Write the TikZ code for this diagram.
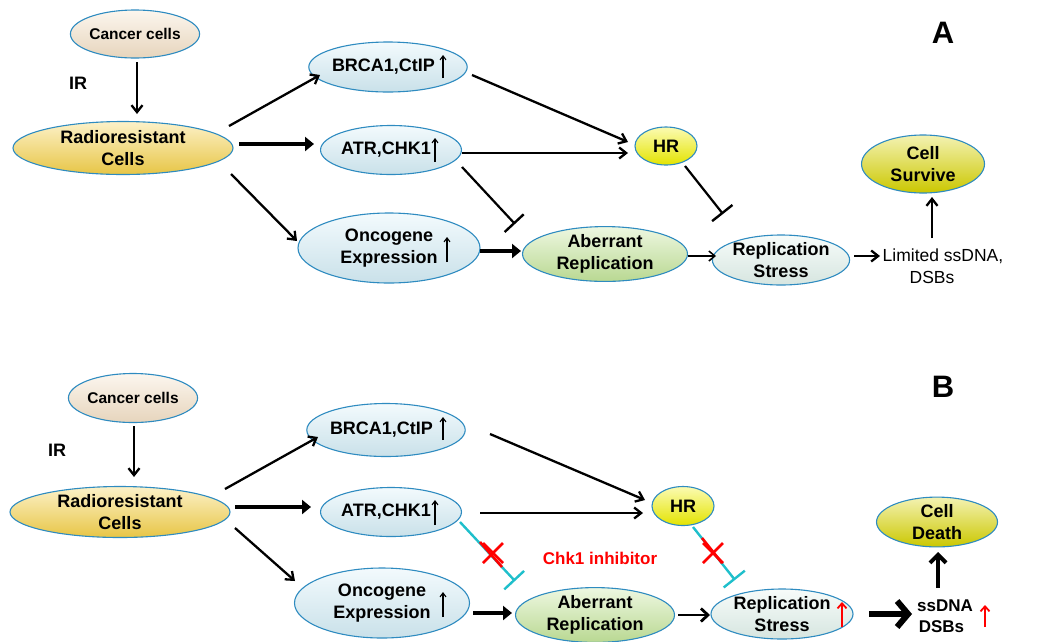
\documentclass[tikz,border=0pt]{standalone}
\usepackage{fontspec}
\setmainfont{Liberation Sans}
\usetikzlibrary{shapes.geometric,arrows.meta}
\definecolor{edgeblue}{HTML}{2E8BC0}
\definecolor{peach}{HTML}{F5E2C8}
\definecolor{gold}{HTML}{F6D24A}
\definecolor{lblue}{HTML}{D6EFF8}
\definecolor{hryel}{HTML}{F2F200}
\definecolor{olive}{HTML}{D8D400}
\definecolor{lgreen}{HTML}{C5E69B}
\definecolor{rsfill}{HTML}{E4F4EE}
\definecolor{teal}{HTML}{1FBFCB}
\definecolor{myred}{HTML}{FF0000}
\tikzset{
  ell/.style={ellipse, draw=edgeblue, line width=1.1pt, inner sep=0pt, align=center,
     font=\bfseries\fontsize{18}{22}\selectfont},
  fillc/.style={top color=#1!30!white, middle color=#1, bottom color=#1!94!black},
  sz/.style 2 args={minimum width=#1pt, minimum height=#2pt},
  arr/.style={line width=2.3pt, -{Straight Barb[length=7pt,width=11pt,line width=2.3pt]}},
  thinarr/.style={line width=1.3pt, -{Straight Barb[length=6pt,width=10pt,line width=1.5pt]}},
  thickarr/.style={line width=3.8pt, -{Triangle[length=9pt,width=14pt]}},
  bigarr/.style={line width=6pt, -{Straight Barb[length=11pt,width=26pt,line width=6pt]}},
  medarr/.style={line width=2.8pt, -{Straight Barb[length=7pt,width=13pt,line width=2.8pt]}},
  inh/.style={line width=2.2pt, -{Bar[width=26pt,line width=2.4pt]}},
  inhb/.style={draw=teal, line width=2.4pt, -{Bar[width=27pt,line width=2.4pt]}},
  redseg/.style={draw=myred, line width=2.6pt},
  upa/.style={line width=1.1pt, -{Straight Barb[length=4pt,width=6pt,line width=1.1pt]}},
  upr/.style={draw=myred, line width=1.8pt, -{Straight Barb[length=5pt,width=9pt,line width=1.8pt]}},
  lab/.style={font=\bfseries\fontsize{18}{22}\selectfont},
}
\begin{document}
\begin{tikzpicture}[x=1pt,y=-1pt]
\useasboundingbox (0,0) rectangle (1048,641);
% ================= Panel A =================
\node[ell, fillc=peach, sz={110}{48}, font=\bfseries\fontsize{15.5}{18}\selectfont] (can1) at (135,34) {Cancer cells};
\node[ell, fillc=gold, sz={220}{53}] (rad1) at (123,148) {Radioresistant\\Cells};
\node[ell, fillc=lblue, sz={132}{50}] (brca1) at (388,67) {BRCA1,CtIP\hspace*{9pt}};
\node[ell, fillc=lblue, sz={124}{49}] (atr1) at (391,150) {ATR,CHK1\hspace*{10pt}};
\node[ell, fillc=lblue, sz={182}{70}] (onc1) at (389,248) {Oncogene\\Expression};
\node[ell, fillc=hryel, sz={62}{38}] (hr1) at (666,146) {HR};
\node[ell, fillc=olive, sz={123}{58}] (cs1) at (923,164) {Cell\\Survive};
\node[ell, fillc=lgreen, sz={165}{50}] (ab1) at (605,254) {Aberrant\\Replication};
\node[ell, fillc=rsfill, sz={125}{50}] (rs1) at (781,260) {Replication\\Stress};
\node[align=center, font=\fontsize{17.5}{22}\selectfont] (lim1) at (943,266) {Limited ssDNA,\\DSBs\hspace*{22pt}};
\node[lab] (ir1) at (78,83) {IR};
\node[font=\bfseries\fontsize{31}{34}\selectfont] (la) at (943,33) {A};

\draw[arr] ([shift={(2,28)}]can1.center) -- ([shift={(14,-34)}]rad1.center);
\draw[arr] ([shift={(106,-22)}]rad1.center) -- ([shift={(-68,8)}]brca1.center);
\draw[thickarr] ([shift={(116,-4)}]rad1.center) -- ([shift={(-77,-6)}]atr1.center);
\draw[arr] ([shift={(108,26)}]rad1.center) -- ([shift={(-92,-7)}]onc1.center);
\draw[arr] ([shift={(84,8)}]brca1.center) -- ([shift={(-38,-4)}]hr1.center);
\draw[arr] ([shift={(71,3)}]atr1.center) -- ([shift={(-38,7)}]hr1.center);
\draw[inh] ([shift={(71,17)}]atr1.center) -- ([shift={(-90,-30)}]ab1.center);
\draw[inh] ([shift={(19,20)}]hr1.center) -- ([shift={(-58,-46)}]rs1.center);
\draw[thickarr] ([shift={(91,3)}]onc1.center) -- ([shift={(-84,-3)}]ab1.center);
\draw[thinarr] ([shift={(83,2)}]ab1.center) -- ([shift={(-65,-4)}]rs1.center);
\draw[arr] ([shift={(73,-4)}]rs1.center) -- ([shift={(-63,-10)}]lim1.center);
\draw[arr] ([shift={(-11,-28)}]lim1.center) -- ([shift={(9,33)}]cs1.center);

\draw[upa] ([shift={(55,11)}]brca1.center) -- ([shift={(55,-12)}]brca1.center);
\draw[upa] ([shift={(44,12)}]atr1.center) -- ([shift={(44,-12)}]atr1.center);
\draw[upa] ([shift={(58,14)}]onc1.center) -- ([shift={(58,-11)}]onc1.center);

% ================= Panel B =================
\node[ell, fillc=peach, sz={110}{49}, font=\bfseries\fontsize{15.5}{18}\selectfont] (can2) at (133,398) {Cancer cells};
\node[ell, fillc=gold, sz={220}{51}] (rad2) at (120,512) {Radioresistant\\Cells};
\node[ell, fillc=lblue, sz={136}{53}] (brca2) at (386,430) {BRCA1,CtIP\hspace*{9pt}};
\node[ell, fillc=lblue, sz={126}{49}] (atr2) at (391,512) {ATR,CHK1\hspace*{10pt}};
\node[ell, fillc=lblue, sz={175}{70}] (onc2) at (382,603) {Oncogene\\Expression};
\node[ell, fillc=hryel, sz={62}{39}] (hr2) at (683,506) {HR};
\node[ell, fillc=olive, sz={121}{46}] (cd2) at (937,522) {Cell\\Death};
\node[ell, fillc=lgreen, sz={159}{48}] (ab2) at (595,615) {Aberrant\\Replication};
\node[ell, fillc=rsfill, sz={142}{50}] (rs2) at (782,614) {Replication\\Stress};
\node[align=center, font=\bfseries\fontsize{17}{21}\selectfont] (ss2) at (945,616) {ssDNA\\DSBs\hspace*{7pt}};
\node[lab] (ir2) at (57,450) {IR};
\node[font=\bfseries\fontsize{31}{34}\selectfont] (lb) at (943,387) {B};
\node[font=\bfseries\fontsize{17}{20}\selectfont, text=myred] (chk) at (600,558) {Chk1 inhibitor};

\draw[arr] ([shift={(1,28)}]can2.center) -- ([shift={(14,-35)}]rad2.center);
\draw[arr] ([shift={(105,-23)}]rad2.center) -- ([shift={(-68,7)}]brca2.center);
\draw[thickarr] ([shift={(115,-5)}]rad2.center) -- ([shift={(-80,-5)}]atr2.center);
\draw[arr] ([shift={(115,16)}]rad2.center) -- ([shift={(-87,-22)}]onc2.center);
\draw[arr] ([shift={(104,4)}]brca2.center) -- ([shift={(-38,-6)}]hr2.center);
\draw[arr] ([shift={(89,1)}]atr2.center) -- ([shift={(-40,7)}]hr2.center);
% blocked inhibition ATR -| Aberrant
\draw[inhb] ([shift={(69,10)}]atr2.center) -- ([shift={(-80,-34)}]ab2.center);
\draw[redseg] ([shift={(89,30)}]atr2.center) -- ([shift={(111,55)}]atr2.center);
\draw[redseg] ([shift={(92,31)}]atr2.center) -- ([shift={(112,51)}]atr2.center);
\draw[redseg] ([shift={(92,51)}]atr2.center) -- ([shift={(112,31)}]atr2.center);
% blocked inhibition HR -| Replication stress
\draw[inhb] ([shift={(10,21)}]hr2.center) -- ([shift={(-47,-34)}]rs2.center);
\draw[redseg] ([shift={(19,32)}]hr2.center) -- ([shift={(39,57)}]hr2.center);
\draw[redseg] ([shift={(20,37)}]hr2.center) -- ([shift={(40,57)}]hr2.center);
\draw[redseg] ([shift={(20,57)}]hr2.center) -- ([shift={(40,37)}]hr2.center);

\draw[thickarr] ([shift={(91,10)}]onc2.center) -- ([shift={(-83,-2)}]ab2.center);
\draw[medarr] ([shift={(83,0)}]ab2.center) -- ([shift={(-72,1)}]rs2.center);
\draw[bigarr] ([shift={(87,0)}]rs2.center) -- ([shift={(-33,-2)}]ss2.center);
\draw[line width=4pt, -{Straight Barb[length=8pt,width=16pt,line width=4pt]}] ([shift={(-7,-28)}]ss2.center) -- ([shift={(1,30)}]cd2.center);

\draw[upa] ([shift={(57,10)}]brca2.center) -- ([shift={(57,-13)}]brca2.center);
\draw[upa] ([shift={(44,13)}]atr2.center) -- ([shift={(44,-12)}]atr2.center);
\draw[upa] ([shift={(61,14)}]onc2.center) -- ([shift={(61,-11)}]onc2.center);
\draw[upr] ([shift={(60,13)}]rs2.center) -- ([shift={(60,-12)}]rs2.center);
\draw[upr] ([shift={(40,11)}]ss2.center) -- ([shift={(40,-11)}]ss2.center);
\end{tikzpicture}
\end{document}
